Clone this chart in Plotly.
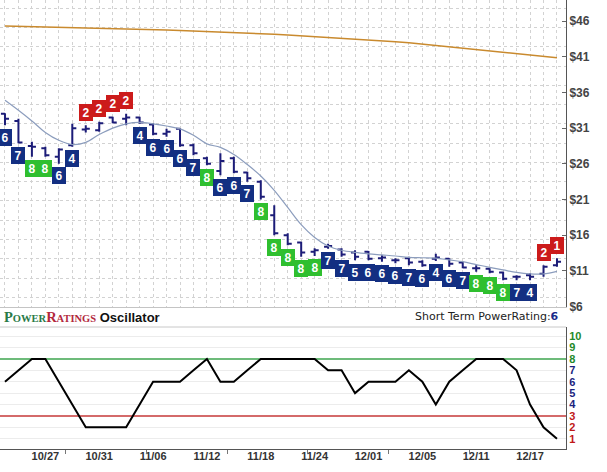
import plotly.graph_objects as go

# ---------------- data ----------------
dates = ["10/22", "10/23", "10/24", "10/27", "10/28", "10/29", "10/30", "10/31",
         "11/03", "11/04", "11/05", "11/06", "11/07", "11/10", "11/11", "11/12",
         "11/13", "11/14", "11/17", "11/18", "11/19", "11/20", "11/21", "11/24",
         "11/25", "11/26", "11/28", "12/01", "12/02", "12/03", "12/04", "12/05",
         "12/08", "12/09", "12/10", "12/11", "12/12", "12/15", "12/16", "12/17",
         "12/18", "12/19"]

opens = [33.0, 32.0, 28.5, 28.2, 27.0, 28.6, 30.8, 30.7, 32.5, 32.3,
         32.5, 31.5, 30.2, 30.9, 28.6, 26.8, 25.0, 26.8, 24.8, 23.5,
         18.8, 16.0, 15.0, 13.7, 14.4, 14.0, 13.6, 13.7, 12.8, 12.5,
         12.8, 12.3, 12.7, 12.7, 12.2, 11.4, 11.3, 10.8, 10.2, 10.4,
         10.6, 11.8]
highs = [33.1, 32.3, 29.1, 28.4, 28.2, 31.6, 31.4, 31.9, 32.6, 33.0,
         32.6, 31.7, 30.9, 31.0, 28.8, 27.0, 27.5, 27.0, 24.9, 23.7,
         20.2, 16.3, 15.1, 14.2, 14.8, 14.2, 13.9, 13.8, 13.2, 12.8,
         13.0, 12.5, 13.4, 12.8, 12.3, 11.8, 11.4, 10.9, 10.4, 10.7,
         11.8, 12.8]
lows = [31.4, 28.9, 27.0, 27.0, 26.0, 28.4, 30.4, 30.5, 31.7, 31.4,
        31.6, 30.0, 29.8, 28.4, 27.2, 25.8, 24.4, 24.7, 23.5, 21.0,
        16.0, 14.6, 13.0, 13.1, 14.1, 13.0, 12.5, 12.5, 12.3, 12.1,
        11.8, 11.6, 12.4, 11.6, 11.4, 10.9, 10.7, 9.7, 9.7, 9.7,
        10.2, 11.6]
closes = [32.3, 29.0, 28.4, 27.2, 28.0, 31.0, 30.9, 31.7, 31.8, 32.5,
          31.8, 30.2, 30.5, 28.6, 27.5, 26.0, 26.4, 24.9, 24.0, 21.4,
          16.3, 14.8, 13.6, 13.9, 14.5, 13.3, 13.0, 12.7, 12.9, 12.5,
          12.2, 11.8, 12.9, 12.0, 11.5, 11.4, 10.9, 9.9, 10.2, 10.2,
          11.6, 12.3]

ma_short = [34.9, 33.5, 32.0, 30.4, 29.3, 28.7, 29.0, 30.1, 31.0, 31.6,
            31.8, 31.6, 31.3, 30.9, 30.0, 28.8, 28.3, 27.3, 25.9, 24.3,
            22.3, 19.9, 17.5, 15.7, 14.5, 13.9, 13.6, 13.4, 13.25, 13.1,
            12.9, 12.85, 12.8, 12.55, 12.3, 11.9, 11.5, 11.15, 10.8, 10.6,
            10.6, 10.95]
ma_long = [45.30, 45.26, 45.22, 45.18, 45.14, 45.10, 45.05, 45.00, 44.95, 44.90,
           44.85, 44.79, 44.73, 44.67, 44.61, 44.55, 44.47, 44.39, 44.31, 44.23,
           44.15, 44.04, 43.93, 43.82, 43.71, 43.60, 43.47, 43.34, 43.21, 43.08,
           42.95, 42.76, 42.57, 42.38, 42.19, 42.00, 41.81, 41.62, 41.43, 41.24,
           41.05, 40.85]

ratings = [6, 7, 8, 8, 6, 4, 2, 2, 2, 2,
           4, 6, 6, 6, 7, 8, 6, 6, 7, 8,
           8, 8, 8, 8, 7, 7, 5, 6, 6, 6,
           7, 6, 4, 6, 7, 8, 8, 8, 7, 4,
           2, 1]

price_ticks = [6, 11, 16, 21, 26, 31, 36, 41, 46]
price_labels = ["$6", "$11", "$16", "$21", "$26", "$31", "$36", "$41", "$46"]
osc_ticks = [1, 2, 3, 4, 5, 6, 7, 8, 9, 10]
overbought = 8
oversold = 3
current_rating = 6

idx = list(range(len(dates)))
label_idx = list(range(3, len(dates), 4))
sep_ticks = [4.5, 10.5, 16.5, 22.5, 28.5, 34.5]

NAVY = "#132f82"
GREEN = "#2fbf2f"
RED = "#cc1b1b"
BAR = "#1c1c78"

def rating_color(r):
    if r <= 2:
        return RED
    if r >= 8:
        return GREEN
    return NAVY

def label_color(v):
    if v >= 8:
        return "#1f8a2a"
    if v >= 4:
        return "#1a237e"
    return "#c01818"

xr = [-0.37, 41.67]

fig = go.Figure()

fig.add_trace(go.Scatter(x=idx, y=ma_long, mode="lines", line=dict(color="#c98a2e", width=1.5),
                         xaxis="x", yaxis="y", hoverinfo="skip"))
fig.add_trace(go.Scatter(x=idx, y=ma_short, mode="lines", line=dict(color="#8c9dbd", width=1.2, shape="spline"),
                         xaxis="x", yaxis="y", hoverinfo="skip"))
fig.add_trace(go.Ohlc(x=idx, open=opens, high=highs, low=lows, close=closes,
                      increasing=dict(line=dict(color=BAR, width=2)),
                      decreasing=dict(line=dict(color=BAR, width=2)),
                      tickwidth=0.3, xaxis="x", yaxis="y", hoverinfo="skip"))

# threshold lines drawn as data series across the oscillator panel
fig.add_trace(go.Scatter(x=xr, y=[overbought, overbought], mode="lines",
                         line=dict(color="#6dbb7a", width=2), xaxis="x2", yaxis="y2", hoverinfo="skip"))
fig.add_trace(go.Scatter(x=xr, y=[oversold, oversold], mode="lines",
                         line=dict(color="#d46a6a", width=2), xaxis="x2", yaxis="y2", hoverinfo="skip"))
fig.add_trace(go.Scatter(x=idx, y=ratings, mode="lines", line=dict(color="black", width=2),
                         xaxis="x2", yaxis="y2", hoverinfo="skip"))
# carrier for the separator tick axis
fig.add_trace(go.Scatter(x=[None], y=[None], mode="lines", xaxis="x3", yaxis="y2",
                         hoverinfo="skip", showlegend=False))

annotations = []
for i, r in enumerate(ratings):
    above = r <= 2
    base = highs[i] if above else lows[i]
    shift = 13 if above else -12
    annotations.append(dict(
        x=i, y=base, xref="x", yref="y", yshift=shift,
        text="<b>%d</b>" % r, showarrow=False,
        font=dict(family="Liberation Sans", size=12, color="white"),
        bgcolor=rating_color(r), bordercolor=rating_color(r), borderwidth=1, borderpad=1,
        width=10, height=13, align="center", valign="middle"))

# header texts
annotations.append(dict(
    x=0.003, y=0.294, xref="paper", yref="paper", xanchor="left", yanchor="middle",
    showarrow=False,
    text=('<span style="color:#2a7a47;font-size:14.5px">P</span>'
          '<span style="color:#2a7a47;font-size:10.5px">OWER</span>'
          '<span style="color:#b3283c;font-size:14.5px">R</span>'
          '<span style="color:#b3283c;font-size:10.5px">ATINGS</span>'
          '<span style="font-family:Liberation Sans;font-size:13px;color:#111;font-weight:bold"> Oscillator</span>'),
    font=dict(family="Liberation Serif", size=13, color="#2a7a47", weight="bold")))
annotations.append(dict(
    x=561 / 566, y=0.294, xref="paper", yref="paper", xanchor="right", yanchor="middle",
    showarrow=False,
    text='Short Term PowerRating:<b><span style="color:#1a2a8a">%d</span></b>' % current_rating,
    font=dict(family="DejaVu Sans", size=11, color="#222")))

shapes = [dict(type="line", xref="paper", yref="y2 domain", x0=0, x1=1, y0=1, y1=1,
               line=dict(color="#c8c8c8", width=1))]

fig.update_layout(
    width=607, height=472,
    margin=dict(l=0, r=41, t=0, b=23),
    paper_bgcolor="white", plot_bgcolor="white",
    showlegend=False, hovermode=False,
    annotations=annotations, shapes=shapes,
    xaxis=dict(domain=[0, 1], anchor="y", range=xr, showticklabels=False, ticks="",
               rangeslider=dict(visible=False),
               showgrid=True, gridcolor="#d2d2d2", griddash="dot", gridwidth=1,
               tick0=0, dtick=1, zeroline=False,
               showline=True, linecolor="#c4c4c4", linewidth=1),
    yaxis=dict(domain=[0.3163, 1], anchor="x", side="right", range=[5.96, 48.94],
               tickvals=price_ticks, ticktext=price_labels,
               ticks="inside", ticklen=4, tickcolor="#666",
               tickfont=dict(family="Liberation Sans", size=12, color="#444", weight="bold"),
               showline=True, linecolor="#555", linewidth=1,
               showgrid=False, zeroline=False,
               minor=dict(tick0=10.0, dtick=2.7, showgrid=True, gridcolor="#d2d2d2",
                          griddash="dot", gridwidth=1, ticks="")),
    xaxis2=dict(domain=[0, 1], anchor="y2", range=xr,
                tickvals=label_idx, ticktext=[dates[i] for i in label_idx],
                ticks="", tickfont=dict(family="Liberation Sans", size=11, color="#333", weight="bold"),
                ticklabelstandoff=-3,
                showgrid=False, zeroline=False,
                showline=True, linecolor="#555", linewidth=1),
    xaxis3=dict(overlaying="x2", anchor="y2", side="bottom", range=xr, tickvals=sep_ticks,
                showticklabels=False, ticks="outside", ticklen=4, tickcolor="#777",
                showgrid=False, zeroline=False, showline=False),
    yaxis2=dict(domain=[0, 0.2717], anchor="x2", side="right", range=[0.1, 10.8],
                tickvals=osc_ticks,
                ticktext=['<span style="color:%s">%d</span>' % (label_color(v), v) for v in osc_ticks],
                ticks="", tickfont=dict(family="Liberation Sans", size=11, weight="bold"),
                showgrid=True, gridcolor="#ececec", gridwidth=1, zeroline=False,
                showline=True, linecolor="#555", linewidth=1),
)

fig.write_html("out.html")
